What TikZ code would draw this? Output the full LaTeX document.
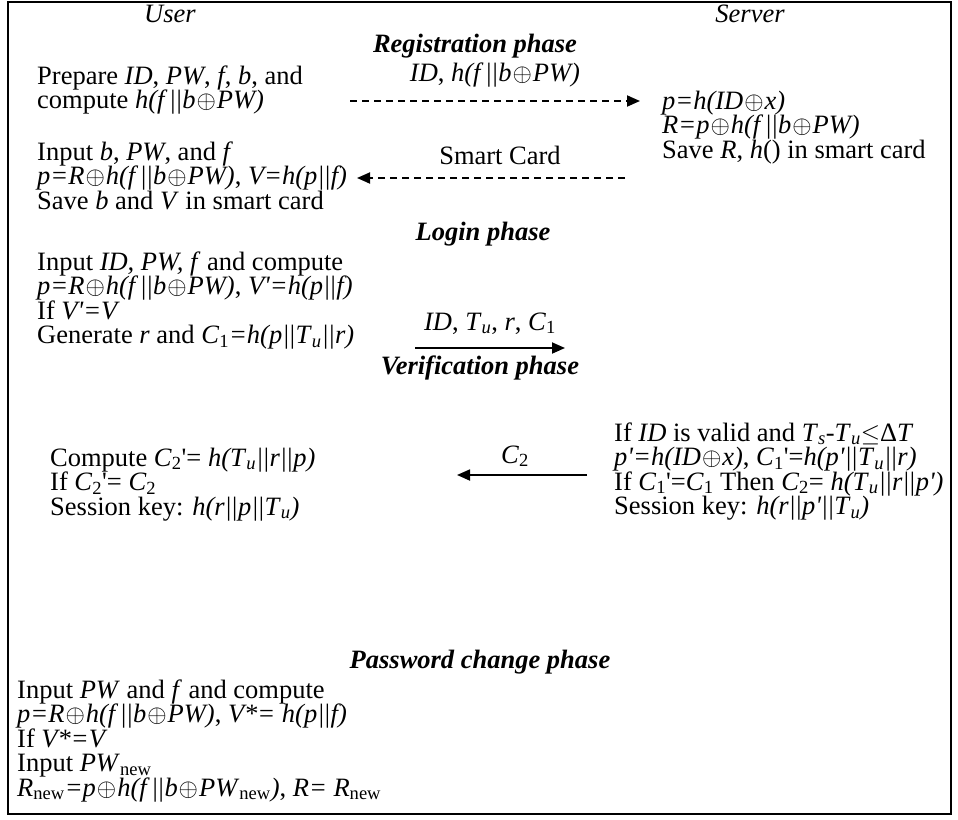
\documentclass[tikz,border=0pt]{standalone}
\usepackage{fontspec}
\setmainfont{Liberation Serif}
\usetikzlibrary{arrows.meta,positioning}

\newcommand{\xorop}{\kern1pt$\oplus$\kern1pt}
\newcommand{\isub}[1]{\textsubscript{\textit{#1}}}
\newcommand{\pr}{\textquotesingle}
\newcommand{\cat}{|\kern-1.2pt|}

\begin{document}
\begin{tikzpicture}[x=1pt,y=-1pt,
    every node/.style={font=\fontsize{26.5}{24.5}\selectfont, inner sep=0pt},
    steps/.style={anchor=base west, align=left},
    party/.style={anchor=base, font=\fontsize{26.5}{24.5}\selectfont\itshape},
    phase/.style={anchor=base, font=\fontsize{26.5}{24.5}\selectfont\bfseries\itshape},
    msg/.style={anchor=base},
    msgarrow/.style={line width=1.8pt, -{Triangle[length=13pt,width=11pt]}},
    cardarrow/.style={msgarrow, dash pattern=on 7pt off 5pt}
  ]

\useasboundingbox (0,0) rectangle (958,819);
\draw[line width=2pt] (8,2) rectangle (951,814);

% parties
\node[party] (user) at (170,22) {User};
\node[party] (server) at (750,22) {Server};

% registration (steps nodes sit on the baseline of their last line)
\node[phase] (reg) at (475,52) {Registration phase};
\node[steps] (ureg1) at (37,108.5) {Prepare \textit{ID}, \textit{PW}, \textit{f}, \textit{b}, and\\
  compute \textit{h(f\,\cat b}\xorop\textit{PW)}};
\node[steps] (sreg) at (662,158) {\textit{p=h(ID}\xorop\textit{x)}\\
  \textit{R=p}\xorop\textit{h(f\,\cat b}\xorop\textit{PW)}\\
  Save \textit{R}, \textit{h}() in smart card};
\node[steps] (ureg2) at (37,209) {Input \textit{b}, \textit{PW}, and \textit{f}\\
  \textit{p=R}\xorop\textit{h(f\,\cat b}\xorop\textit{PW)}, \textit{V=h(p\cat f)}\\
  Save \textit{b} and \textit{V} in smart card};

\coordinate (r1a) at (350,101);
\coordinate (r1b) at (640,101);
\node[msg] (m1) at (495,81) {\textit{ID}, \textit{h(f\,\cat b}\xorop\textit{PW)}};
\draw[cardarrow] (r1a) -- (r1b);

\coordinate (r2a) at (625,178);
\coordinate (r2b) at (357,178);
\node[msg] (m2) at (500,164) {Smart Card};
\draw[cardarrow] (r2a) -- (r2b);

% login
\node[phase] (login) at (483,240) {Login phase};
\node[steps] (ulog) at (37,343.5) {Input \textit{ID, PW, f} and compute\\
  \textit{p=R}\xorop\textit{h(f\,\cat b}\xorop\textit{PW)}, \textit{V\pr=h(p\cat f)}\\
  If \textit{V\pr=V}\\
  Generate \textit{r} and \textit{C}\textsubscript{1}\textit{=h(p\cat T}\isub{u}\textit{\cat r)}};

\coordinate (l1a) at (415,348);
\coordinate (l1b) at (565,348);
\node[msg] (m3) at (490,330) {\textit{ID}, \textit{T}\isub{u}, \textit{r}, \textit{C}\textsubscript{1}};
\draw[msgarrow] (l1a) -- (l1b);

% verification
\node[phase] (verif) at (480,374) {Verification phase};
\node[steps] (sver) at (614,514.5) {If \textit{ID} is valid and \textit{T}\isub{s}-\textit{T}\isub{u}$\leq$Δ\textit{T}\\
  \textit{p\pr=h(ID}\xorop\textit{x)}, \textit{C}\textsubscript{1}\pr=\textit{h(p\pr\cat T}\isub{u}\textit{\cat r)}\\
  If \textit{C}\textsubscript{1}\pr=\textit{C}\textsubscript{1} Then \textit{C}\textsubscript{2}= \textit{h(T}\isub{u}\textit{\cat r\cat p\pr)}\\
  Session key: \textit{h(r\cat p\pr\cat T}\isub{u}\textit{)}};
\node[steps] (uver) at (50,515) {Compute \textit{C}\textsubscript{2}\pr= \textit{h(T}\isub{u}\textit{\cat r\cat p)}\\
  If \textit{C}\textsubscript{2}\pr= \textit{C}\textsubscript{2}\\
  Session key: \textit{h(r\cat p\cat T}\isub{u}\textit{)}};

\coordinate (v1a) at (587,475);
\coordinate (v1b) at (457,475);
\node[msg] (m4) at (515,463) {\textit{C}\textsubscript{2}};
\draw[msgarrow] (v1a) -- (v1b);

% password change
\node[phase] (pwd) at (480,668) {Password change phase};
\node[steps] (upwd) at (17,796) {Input \textit{PW} and \textit{f} and compute\\
  \textit{p=R}\xorop\textit{h(f\,\cat b}\xorop\textit{PW)}, \textit{V*= h(p\cat f)}\\
  If \textit{V*=V}\\
  Input \textit{PW}\textsubscript{new}\\
  \textit{R}\textsubscript{new}\textit{=p}\xorop\textit{h(f\,\cat b}\xorop\textit{PW}\textsubscript{new}\textit{)}, \textit{R= R}\textsubscript{new}};

\end{tikzpicture}
\end{document}
